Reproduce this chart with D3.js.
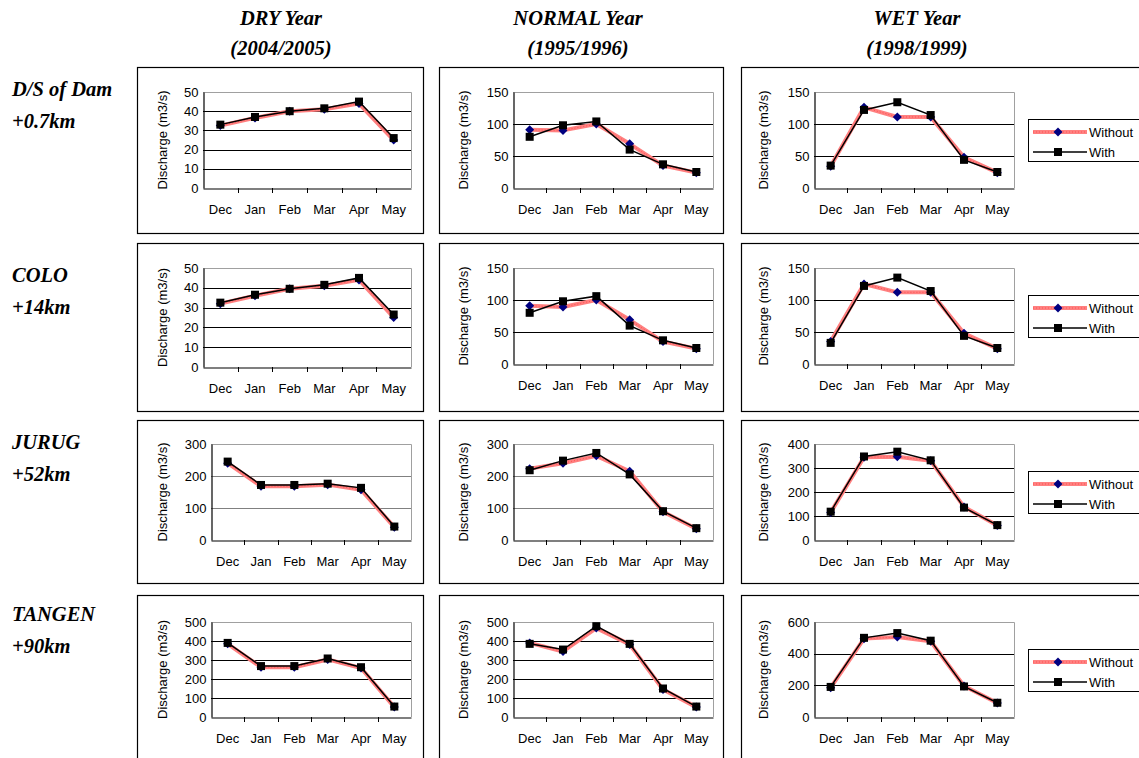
<!DOCTYPE html>
<html>
<head>
<meta charset="utf-8">
<script src="https://cdn.jsdelivr.net/npm/d3@7"></script>
<style>
  html, body { margin: 0; padding: 0; background: #fff; }
  svg { display: block; }
</style>
</head>
<body>
<svg id="chart" width="1139" height="758"></svg>
<script>
// Months of the dry season shown on every panel
const months = ["Dec", "Jan", "Feb", "Mar", "Apr", "May"];

// Column headings (hydrological year type)
const yearTitles = [["DRY Year", "(2004/2005)"], ["NORMAL Year", "(1995/1996)"], ["WET Year", "(1998/1999)"]];

// Row headings (station, distance downstream of the dam)
const stationTitles = [["D/S of Dam", "+0.7km"], ["COLO", "+14km"], ["JURUG", "+52km"], ["TANGEN", "+90km"]];

const seriesNames = ["Without", "With"];

// Y axis maxima and tick steps, per station row: [dry, normal, wet]
const yMax = [[50, 150, 150], [50, 150, 150], [300, 300, 400], [500, 500, 600]];
const yStep = [[10, 50, 50], [10, 50, 50], [100, 100, 100], [100, 100, 200]];

// Discharge (m3/s) — D/S of Dam +0.7km
const dsDamWithout = [
  [32.5, 36.5, 40, 41, 44, 25],
  [91, 90, 100, 69, 35, 24],
  [34, 126, 111, 111, 48, 24]
];
const dsDamWith = [
  [33, 37, 40, 41.5, 45, 26],
  [80, 98, 104, 60, 37, 25],
  [35, 122, 134, 114, 44, 25]
];

// Discharge (m3/s) — COLO +14km
const coloWithout = [
  [32, 36, 39.5, 41, 44, 25],
  [91, 89, 100, 69, 35, 24],
  [35, 125, 112, 112, 48, 24]
];
const coloWith = [
  [32.5, 36.5, 39.5, 41.5, 45, 26.5],
  [80, 98, 106, 60, 37, 25],
  [33, 122, 135, 114, 44, 25]
];

// Discharge (m3/s) — JURUG +52km
const jurugWithout = [
  [240, 168, 168, 173, 157, 40],
  [223, 240, 263, 215, 88, 35],
  [115, 345, 347, 330, 138, 60]
];
const jurugWith = [
  [245, 172, 172, 176, 163, 42],
  [218, 248, 272, 205, 90, 37],
  [118, 348, 368, 332, 135, 62]
];

// Discharge (m3/s) — TANGEN +90km
const tangenWithout = [
  [385, 262, 262, 303, 258, 52],
  [390, 345, 468, 382, 145, 52],
  [185, 495, 505, 478, 196, 88]
];
const tangenWith = [
  [390, 268, 268, 308, 262, 55],
  [385, 355, 478, 385, 150, 55],
  [190, 500, 530, 482, 193, 90]
];

const withoutByRow = [dsDamWithout, coloWithout, jurugWithout, tangenWithout];
const withByRow = [dsDamWith, coloWith, jurugWith, tangenWith];

// ---------- layout ----------
const svg = d3.select("#chart");
const serif = "'Liberation Serif', 'Times New Roman', serif";
const sans = "'Liberation Sans', Arial, sans-serif";
const fs = 13;

const frameTop = [67, 243, 420, 595];
const frameBottom = [233, 411, 583, 775];
const frameLeft = [137, 439, 741];
const frameRight = [423, 723, 1150];

const plotTop = [92, 268, 444, 622];
const plotBottom = [[188, 188, 188], [367, 364, 364], [540, 540, 540], [717, 717, 717]];
const plotLeft = [[203, 513, 814], [203, 513, 814], [211, 513, 814], [211, 513, 814]];
const plotRight = [411, 713, 1014];
const titleX = [162, 463, 763];
const gridColor = [["#000", "#000", "#000"], ["#000", "#000", "#000"], ["#808080", "#808080", "#000"], ["#000", "#000", "#000"]];

const withoutColor = "#ff8080";
const markerNavy = "#000080";

// Column headings
const colCenters = [281, 578, 917];
yearTitles.forEach((t, c) => {
  t.forEach((line, i) => {
    svg.append("text")
      .attr("x", colCenters[c]).attr("y", 18 + i * 30)
      .attr("text-anchor", "middle").attr("dominant-baseline", "central")
      .attr("font-family", serif).attr("font-style", "italic").attr("font-weight", "bold")
      .attr("font-size", 20.5).text(line);
  });
});

// Row headings
const rowY = [89, 275, 442, 614];
stationTitles.forEach((t, r) => {
  t.forEach((line, i) => {
    svg.append("text")
      .attr("x", 12).attr("y", rowY[r] + i * 32)
      .attr("dominant-baseline", "central")
      .attr("font-family", serif).attr("font-style", "italic").attr("font-weight", "bold")
      .attr("font-size", 20.5).text(line);
  });
});

function diamond(g, x, y) {
  const s = 4.5;
  g.append("path")
    .attr("d", `M${x},${y - s}L${x + s},${y}L${x},${y + s}L${x - s},${y}Z`)
    .attr("fill", markerNavy);
}
function square(g, x, y) {
  const s = 4;
  g.append("rect").attr("x", x - s).attr("y", y - s).attr("width", 2 * s).attr("height", 2 * s)
    .attr("fill", "#000");
}

for (let r = 0; r < 4; r++) {
  for (let c = 0; c < 3; c++) {
    const g = svg.append("g");
    // chart frame
    g.append("rect")
      .attr("x", frameLeft[c] + 0.5).attr("y", frameTop[r] + 0.5)
      .attr("width", frameRight[c] - frameLeft[c]).attr("height", frameBottom[r] - frameTop[r])
      .attr("fill", "#fff").attr("stroke", "#000").attr("stroke-width", 1.2);

    const L = plotLeft[r][c], R = plotRight[c], T = plotTop[r], B = plotBottom[r][c];
    const x = d3.scaleBand().domain(months).range([L, R]);
    const y = d3.scaleLinear().domain([0, yMax[r][c]]).range([B, T]);
    const ticks = d3.range(0, yMax[r][c] + 1e-9, yStep[r][c]);

    // plot area outline (top/right) in grey
    g.append("path")
      .attr("d", `M${L},${T + 0.5}H${R + 0.5}V${B}`)
      .attr("fill", "none").attr("stroke", "#a0a0a0").attr("stroke-width", 1);

    // gridlines
    g.selectAll(".grid").data(ticks.filter(t => t > 0 && t < yMax[r][c])).enter()
      .append("line")
      .attr("x1", L).attr("x2", R)
      .attr("y1", d => Math.round(y(d)) + 0.5).attr("y2", d => Math.round(y(d)) + 0.5)
      .attr("stroke", gridColor[r][c]).attr("stroke-width", 1);

    // y axis
    const yAxis = d3.axisLeft(y).tickValues(ticks).tickSize(0).tickPadding(5);
    const ya = g.append("g").attr("transform", `translate(${L + 0.5},0)`).call(yAxis);
    ya.select(".domain").attr("stroke", "#000").attr("stroke-width", 1.2);
    ya.selectAll("text").attr("font-family", sans).attr("font-size", fs).attr("fill", "#000");

    // x axis with ticks between categories
    const xAxis = d3.axisBottom(x).tickSize(0).tickPadding(16);
    const xa = g.append("g").attr("transform", `translate(0,${B + 0.5})`).call(xAxis);
    xa.select(".domain").attr("stroke", "#000").attr("stroke-width", 1.2);
    xa.selectAll("text").attr("font-family", sans).attr("font-size", fs).attr("fill", "#000");
    g.selectAll(".xtick").data(months.slice(1)).enter().append("line")
      .attr("x1", d => Math.round(x(d)) + 0.5).attr("x2", d => Math.round(x(d)) + 0.5)
      .attr("y1", B).attr("y2", B + 5)
      .attr("stroke", "#000").attr("stroke-width", 1);

    // y axis title
    g.append("text")
      .attr("transform", `translate(${titleX[c]},${(T + B) / 2}) rotate(-90)`)
      .attr("text-anchor", "middle").attr("dominant-baseline", "central")
      .attr("font-family", sans).attr("font-size", fs).text("Discharge (m3/s)");

    const cx = m => x(m) + x.bandwidth() / 2;
    const line = d3.line().x((d, i) => cx(months[i])).y(d => y(d));

    // Without dam (pink band, navy diamonds)
    const wo = withoutByRow[r][c];
    g.append("path").datum(wo).attr("d", line)
      .attr("fill", "none").attr("stroke", withoutColor).attr("stroke-width", 4)
      .attr("stroke-linejoin", "round");
    g.append("path").datum(wo).attr("d", line)
      .attr("fill", "none").attr("stroke", "#ff5050").attr("stroke-width", 1)
      .attr("stroke-dasharray", "1,2");
    wo.forEach((v, i) => diamond(g, cx(months[i]), y(v)));

    // With dam (black line, black squares)
    const wi = withByRow[r][c];
    g.append("path").datum(wi).attr("d", line)
      .attr("fill", "none").attr("stroke", "#000").attr("stroke-width", 1.5);
    wi.forEach((v, i) => square(g, cx(months[i]), y(v)));

    // legend on the wet-year panel
    if (c === 2) {
      const lt = T + 27;
      const lg = g.append("g");
      lg.append("rect").attr("x", 1028.5).attr("y", lt + 0.5).attr("width", 130).attr("height", 42)
        .attr("fill", "#fff").attr("stroke", "#000").attr("stroke-width", 1);
      const rows = [lt + 13, lt + 33];
      // Without
      lg.append("line").attr("x1", 1033).attr("x2", 1087).attr("y1", rows[0]).attr("y2", rows[0])
        .attr("stroke", withoutColor).attr("stroke-width", 4);
      lg.append("line").attr("x1", 1033).attr("x2", 1087).attr("y1", rows[0]).attr("y2", rows[0])
        .attr("stroke", "#ff5050").attr("stroke-width", 1).attr("stroke-dasharray", "1,2");
      diamond(lg, 1058, rows[0]);
      // With
      lg.append("line").attr("x1", 1033).attr("x2", 1087).attr("y1", rows[1]).attr("y2", rows[1])
        .attr("stroke", "#000").attr("stroke-width", 1.5);
      square(lg, 1058, rows[1]);
      seriesNames.forEach((n, i) => {
        lg.append("text").attr("x", 1089).attr("y", rows[i])
          .attr("dominant-baseline", "central")
          .attr("font-family", sans).attr("font-size", fs).text(n);
      });
    }
  }
}
</script>
</body>
</html>
